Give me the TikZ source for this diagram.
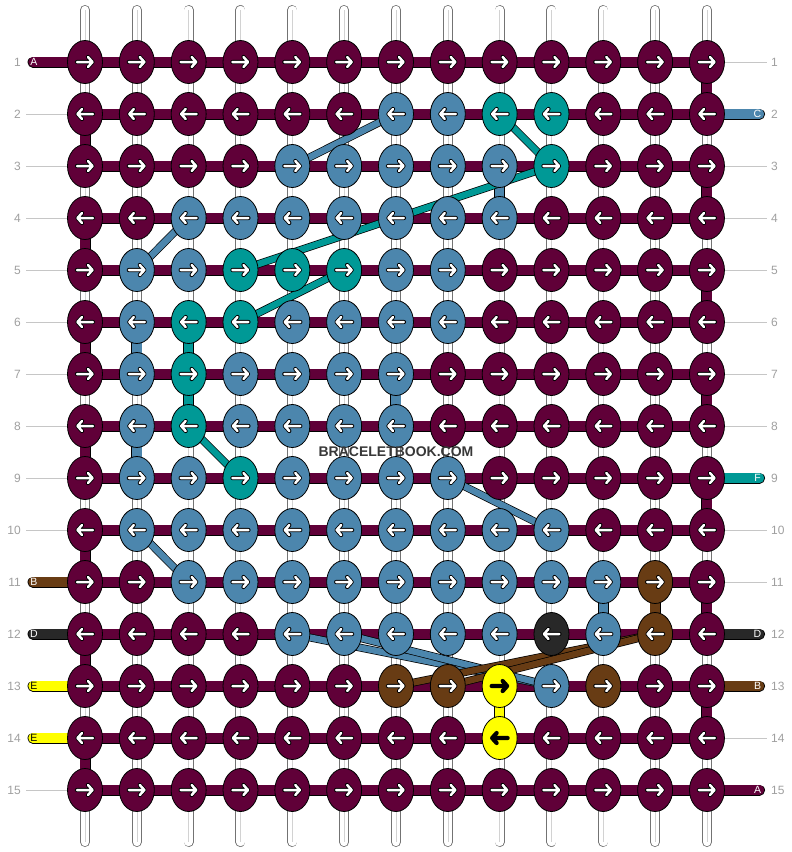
\documentclass[tikz,border=0pt]{standalone}
\usepackage{fontspec}
\setmainfont{Liberation Sans}
\usetikzlibrary{shapes.geometric,backgrounds}

% thread colours
\definecolor{P}{RGB}{96,0,56}
\definecolor{B}{RGB}{76,134,173}
\definecolor{T}{RGB}{0,153,150}
\definecolor{R}{RGB}{104,60,20}
\definecolor{K}{RGB}{40,40,40}
\definecolor{Y}{RGB}{255,255,0}
\colorlet{arrowP}{white}
\colorlet{arrowB}{white}
\colorlet{arrowT}{white}
\colorlet{arrowR}{white}
\colorlet{arrowK}{white}
\colorlet{arrowY}{black}

\tikzset{
  knot/.style={ellipse, draw=black, line width=0.8pt, minimum width=35pt, minimum height=43pt, inner sep=0pt},
  strand/.style={draw=black!55, line width=0.8pt, double=white, double distance=8.4pt, line cap=round},
  thread/.style={draw=black, line width=0.8pt, double=#1, double distance=9.4pt},
  cross/.style={draw=black, line width=0.7pt, double=#1, double distance=6.4pt},
  tab/.style={thread=#1, line cap=round},
  rowno/.style={text=gray!75, inner sep=0pt, font=\fontsize{12}{14}\selectfont},
  tabtext/.style={inner sep=0pt, font=\fontsize{10.5}{12}\selectfont},
  guide/.style={draw=gray!45, line width=0.8pt},
  knot arrow/.pic={
    \draw[black, line width=4.2pt, line cap=round, line join=round] (-8,0) -- (7.5,0) (3,-5) -- (7.5,0) -- (3,5);
    \draw[pic actions, line width=2.5pt, line cap=round, line join=round] (-8,0) -- (7.5,0) (3,-5) -- (7.5,0) -- (3,5);
  }
}

\begin{document}
\begin{tikzpicture}[x=1pt, y=-1pt]

    \def\knotx{51.83}
    \def\knoty{52}

    \useasboundingbox (0,0) rectangle (792,852);

    %knots, row by row:
    \foreach \row [count=\r] in {
      {P,P,P,P,P,P,P,P,P,P,P,P,P},
      {P,P,P,P,P,P,B,B,T,T,P,P,P},
      {P,P,P,P,B,B,B,B,B,T,P,P,P},
      {P,P,B,B,B,B,B,B,B,P,P,P,P},
      {P,B,B,T,T,T,B,B,P,P,P,P,P},
      {P,B,T,T,B,B,B,B,P,P,P,P,P},
      {P,B,T,B,B,B,B,P,P,P,P,P,P},
      {P,B,T,B,B,B,B,P,P,P,P,P,P},
      {P,B,B,T,B,B,B,B,P,P,P,P,P},
      {P,B,B,B,B,B,B,B,B,B,P,P,P},
      {P,P,B,B,B,B,B,B,B,B,B,R,P},
      {P,P,P,P,B,B,B,B,B,K,B,R,P},
      {P,P,P,P,P,P,R,R,Y,B,R,P,P},
      {P,P,P,P,P,P,P,P,Y,P,P,P,P},
      {P,P,P,P,P,P,P,P,P,P,P,P,P}}{
      \foreach \col [count=\c] in \row {
        \pgfmathsetmacro\dir{ifthenelse(isodd(\r),1,-1)}
        \node[knot, fill=\col] (k-\r-\c) at ({85+(\c-1)*\knotx},{62+(\r-1)*\knoty}) {};
        \pic[draw=arrow\col, xscale=\dir] at (k-\r-\c) {knot arrow};
      }
    }

    %row numbers:
    \foreach \r in {1,...,15} {
      \node[rowno, anchor=east] (nl-\r) at (21,{62+(\r-1)*\knoty}) {\r};
      \node[rowno, anchor=west] (nr-\r) at (771,{62+(\r-1)*\knoty}) {\r};
      \coordinate (tl-\r) at (33,{62+(\r-1)*\knoty});
      \coordinate (tr-\r) at (759.5,{62+(\r-1)*\knoty});
    }
    \foreach \c in {1,...,13} {
      \coordinate (st-\c) at ({85+(\c-1)*\knotx},10);
      \coordinate (sb-\c) at ({85+(\c-1)*\knotx},842);
    }

    \begin{scope}[on background layer]
      %white strands:
      \foreach \c in {1,...,13} {
        \draw[strand] (st-\c) -- (sb-\c);
        \draw[gray!35, line width=0.6pt] (st-\c) -- (sb-\c);
      }
      %working thread along the rows:
      \foreach \r in {1,...,15}
        \draw[thread=P] (k-\r-1.center) -- (k-\r-13.center);
      \foreach \r [evaluate=\r as \s using int(\r+1)] in {2,4,...,14}
        \draw[thread=P] (k-\r-1.center) -- (k-\s-1.center);
      \foreach \r [evaluate=\r as \s using int(\r+1)] in {1,3,...,13}
        \draw[thread=P] (k-\r-13.center) -- (k-\s-13.center);
      %coloured threads going down:
      \foreach \r/\c/\col [evaluate=\r as \s using int(\r+1)] in
        {3/9/B, 6/2/B, 8/2/B, 7/7/B, 11/11/B, 6/3/T, 7/3/T, 11/12/R, 13/9/Y}
        \draw[thread=\col] (k-\r-\c.center) -- (k-\s-\c.center);
      %coloured threads crossing:
      \foreach \ra/\ca/\rb/\cb/\col in
        {2/7/3/5/B, 4/3/5/2/B, 10/2/11/3/B, 9/8/10/10/B, 12/5/13/10/B, 12/6/13/10/B,
         2/9/3/10/T, 3/10/5/4/T, 6/4/5/6/T, 8/3/9/4/T,
         13/7/12/12/R, 13/8/12/12/R}
        \draw[cross=\col] (k-\ra-\ca.center) -- (k-\rb-\cb.center);
      %thread ends:
      \foreach \r/\col in {1/P, 11/R, 12/K, 13/Y, 14/Y}
        \draw[tab=\col] (tl-\r) -- (k-\r-1.center);
      \foreach \r/\col in {2/B, 9/T, 12/K, 13/R, 15/P}
        \draw[tab=\col] (k-\r-13.center) -- (tr-\r);
      %guide lines:
      \foreach \r in {2,...,10,15}
        \draw[guide, shorten <=5pt] (nl-\r.east) -- (k-\r-1.center);
      \foreach \r in {1,3,4,5,6,7,8,10,11,14}
        \draw[guide, shorten >=4pt] (k-\r-13.center) -- (nr-\r.west);
    \end{scope}

    %letters on the thread ends:
    \foreach \r/\t/\tc in {1/A/white, 11/B/white, 12/D/white, 13/E/black, 14/E/black}
      \node[tabtext, text=\tc] (ltab-\r) at ([xshift=1pt]tl-\r) {\t};
    \foreach \r/\t/\tc in {2/C/white, 9/F/white, 12/D/white, 13/B/white, 15/A/white}
      \node[tabtext, text=\tc] (rtab-\r) at ([xshift=-2pt]tr-\r) {\t};

    \node[font=\bfseries\fontsize{14}{16}\selectfont, text=black!78] (mark) at (396,452) {BRACELETBOOK.COM};

\end{tikzpicture}
\end{document}
